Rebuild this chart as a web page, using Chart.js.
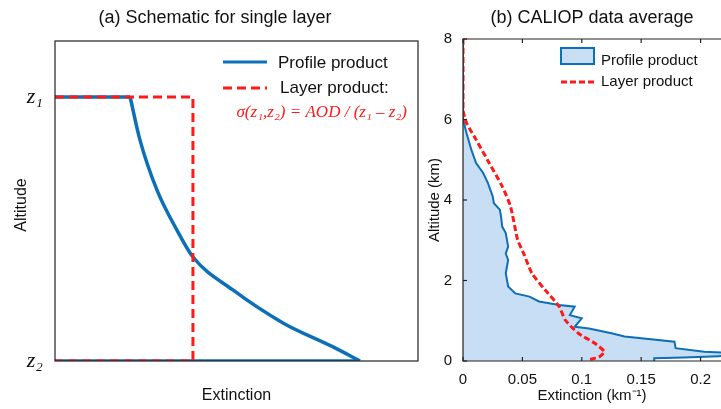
<!DOCTYPE html>
<html>
<head>
<meta charset="utf-8">
<script src="https://cdn.jsdelivr.net/npm/chart.js@4.4.0/dist/chart.umd.min.js"></script>
<style>
body{margin:0;background:#fff;width:721px;height:409px;overflow:hidden;position:relative}
#a{position:absolute;left:0;top:0}
#b{position:absolute;left:425px;top:0}
</style>
</head>
<body>
<canvas id="a" width="425" height="409"></canvas>
<canvas id="b" width="296" height="409"></canvas>
<script>
// (a) schematic, arbitrary units
var z1 = 8.25, z2 = 0;
var schemCurveX = [2.07, 2.34, 2.81, 3.36, 3.80, 4.90, 6.28, 7.66, 8.40];
var schemCurveY = [z1, 6.91, 5.34, 4.09, 3.25, 2.22, 1.19, 0.44, z2];
var schemTopX = [0, 2.07];
var schemBottomX = [0, 8.40];
var schemLayerX = [0, 3.8, 3.8, 0];
var schemLayerY = [z1, z1, z2, z2];

// (b) CALIOP average, extinction km^-1 vs altitude km
var profExt = [0, 0, 0.003, 0.007, 0.011, 0.017, 0.021, 0.025, 0.026, 0.031, 0.032, 0.033, 0.036, 0.038, 0.036, 0.038, 0.036, 0.038, 0.044, 0.056, 0.064, 0.081, 0.094, 0.090, 0.100, 0.094, 0.106, 0.125, 0.136, 0.178, 0.179, 0.203, 0.230, 0.230, 0.215, 0.186, 0.161, 0.161];
var profAlt = [8, 6.0, 5.66, 5.25, 4.92, 4.67, 4.42, 4.09, 3.92, 3.76, 3.59, 3.34, 3.18, 2.84, 2.67, 2.51, 2.18, 1.85, 1.68, 1.60, 1.48, 1.39, 1.35, 1.14, 1.06, 0.85, 0.81, 0.69, 0.61, 0.48, 0.32, 0.23, 0.20, 0.14, 0.12, 0.09, 0.07, 0];
var layerExt = [0, 0, 0.003, 0.011, 0.022, 0.033, 0.040, 0.046, 0.051, 0.058, 0.069, 0.081, 0.086, 0.097, 0.111, 0.119, 0.115, 0.107];
var layerAlt = [8, 6.24, 5.91, 5.50, 4.92, 4.34, 3.84, 3.01, 2.68, 2.18, 1.77, 1.35, 1.02, 0.69, 0.44, 0.23, 0.11, 0.04];
var altTicks = [0, 2, 4, 6, 8];

var BLUE = '#0c6fb8', RED = '#ff1a1a';
var SANS = '"Liberation Sans", Arial, sans-serif';
var SERIF = '"Liberation Serif", "Times New Roman", serif';

function pts(xs, ys){ return xs.map(function(x, i){ return {x: x, y: ys[i]}; }); }

function text(ctx, s, x, y, font, color, align){
	ctx.font = font; ctx.fillStyle = color; ctx.textAlign = align || 'left'; ctx.textBaseline = 'middle';
	ctx.fillText(s, x, y);
}

var schematicDeco = {
	id: 'deco',
	afterDraw: function(c){
		var ctx = c.ctx, a = c.chartArea;
		ctx.save();
		ctx.strokeStyle = '#222'; ctx.lineWidth = 1.2;
		ctx.strokeRect(a.left, a.top, a.right - a.left, a.bottom - a.top);
		text(ctx, '(a) Schematic for single layer', 215, 18, '18px ' + SANS, '#111', 'center');
		// legend
		ctx.lineWidth = 3;
		ctx.strokeStyle = BLUE; ctx.beginPath(); ctx.moveTo(223, 62); ctx.lineTo(267, 62); ctx.stroke();
		ctx.strokeStyle = RED; ctx.setLineDash([9, 5]); ctx.beginPath(); ctx.moveTo(223, 88); ctx.lineTo(267, 88); ctx.stroke();
		ctx.setLineDash([]);
		text(ctx, 'Profile product', 278, 63, '17px ' + SANS, '#111');
		text(ctx, 'Layer product:', 280, 88, '17px ' + SANS, '#111');
		text(ctx, 'σ(z₁,z₂) = AOD / (z₁ – z₂)', 407, 113, 'italic 17px ' + SERIF, RED, 'right');
		ctx.translate(22, (a.top + a.bottom) / 2 + 4); ctx.rotate(-Math.PI / 2);
		text(ctx, 'Altitude', 0, 0, '16px ' + SANS, '#111', 'center');
		ctx.restore();
	}
};

var blueLine = {borderColor: BLUE, borderWidth: 3.5, pointRadius: 0, order: 1};
new Chart(document.getElementById('a'), {
	type: 'line',
	data: {
		datasets: [
			{data: pts(schemLayerX, schemLayerY), borderColor: RED, borderWidth: 3, borderDash: [9, 5], pointRadius: 0, tension: 0, order: 0},
			Object.assign({data: pts(schemCurveX, schemCurveY), cubicInterpolationMode: 'monotone'}, blueLine),
			Object.assign({data: pts(schemTopX, [z1, z1])}, blueLine),
			Object.assign({data: pts(schemBottomX, [z2, z2]), borderWidth: 2.5}, blueLine)
		]
	},
	options: {
		responsive: false, animation: false,
		layout: {padding: {top: 41, right: 7}},
		plugins: {legend: {display: false}, tooltip: {enabled: false}},
		scales: {
			x: {type: 'linear', min: 0, max: 10,
				grid: {display: false}, border: {display: false},
				ticks: {display: false},
				title: {display: true, text: 'Extinction', font: {size: 16, family: SANS}, color: '#111', padding: {top: 22}},
				afterFit: function(s){ s.height = 48; }},
			y: {type: 'linear', min: 0, max: 10,
				grid: {display: false}, border: {display: false},
				afterBuildTicks: function(s){ s.ticks = [{value: z2}, {value: z1}]; },
				ticks: {callback: function(v){ return v === z1 ? 'z₁' : 'z₂'; }, font: {size: 22, family: SERIF, style: 'italic'}, color: '#111', padding: 4},
				afterFit: function(s){ s.width = 55; }}
		}
	},
	plugins: [schematicDeco]
});

var caliopDeco = {
	id: 'deco2',
	afterDraw: function(c){
		var ctx = c.ctx, a = c.chartArea;
		ctx.save();
		ctx.strokeStyle = '#222'; ctx.lineWidth = 1.2;
		ctx.beginPath(); ctx.moveTo(a.right + 5, a.top); ctx.lineTo(a.left, a.top); ctx.lineTo(a.left, a.bottom); ctx.lineTo(a.right + 5, a.bottom); ctx.stroke();
		// inward tick marks
		var xs = c.scales.x, ys = c.scales.y;
		[0, 0.05, 0.1, 0.15, 0.2].forEach(function(v){
			var p = xs.getPixelForValue(v);
			ctx.beginPath(); ctx.moveTo(p, a.bottom); ctx.lineTo(p, a.bottom - 4); ctx.moveTo(p, a.top); ctx.lineTo(p, a.top + 4); ctx.stroke();
		});
		altTicks.forEach(function(v){
			var p = ys.getPixelForValue(v);
			ctx.beginPath(); ctx.moveTo(a.left, p); ctx.lineTo(a.left + 4, p); ctx.stroke();
		});
		text(ctx, '(b) CALIOP data average', 167, 18, '18px ' + SANS, '#111', 'center');
		// legend
		ctx.fillStyle = '#c8def5'; ctx.fillRect(136, 48, 33, 16);
		ctx.strokeStyle = BLUE; ctx.lineWidth = 2; ctx.strokeRect(136, 48, 33, 16);
		ctx.strokeStyle = RED; ctx.lineWidth = 3; ctx.setLineDash([6, 3]);
		ctx.beginPath(); ctx.moveTo(136, 82); ctx.lineTo(172, 82); ctx.stroke();
		ctx.setLineDash([]);
		text(ctx, 'Profile product', 176, 61, '15px ' + SANS, '#111');
		text(ctx, 'Layer product', 176, 82, '15px ' + SANS, '#111');
		ctx.translate(10, (a.top + a.bottom) / 2); ctx.rotate(-Math.PI / 2);
		text(ctx, 'Altitude (km)', 0, 0, '15px ' + SANS, '#111', 'center');
		ctx.restore();
	}
};

new Chart(document.getElementById('b'), {
	type: 'line',
	data: {
		datasets: [
			{data: pts(profExt, profAlt), borderColor: BLUE, backgroundColor: '#c8def5', borderWidth: 2, fill: 'origin', pointRadius: 0, tension: 0, order: 1},
			{data: pts(layerExt, layerAlt), borderColor: RED, borderWidth: 3, borderDash: [6, 3], pointRadius: 0, tension: 0.2, order: 0}
		]
	},
	options: {
		responsive: false, animation: false, indexAxis: 'y',
		layout: {padding: {top: 39, right: 0}},
		plugins: {legend: {display: false}, tooltip: {enabled: false}},
		scales: {
			x: {type: 'linear', min: 0, max: 0.2172,
				grid: {display: false}, border: {display: false},
				afterBuildTicks: function(s){ s.ticks = [0, 0.05, 0.1, 0.15, 0.2].map(function(v){ return {value: v}; }); },
				ticks: {autoSkip: false, maxRotation: 0, callback: function(v){ return String(v); }, font: {size: 15, family: SANS}, color: '#111', padding: 2},
				title: {display: true, text: 'Extinction (km⁻¹)', font: {size: 15, family: SANS}, color: '#111', padding: {top: 0}},
				afterFit: function(s){ s.height = 48; }},
			y: {type: 'linear', min: 0, max: 8,
				grid: {display: false}, border: {display: false},
				afterBuildTicks: function(s){ s.ticks = altTicks.map(function(v){ return {value: v}; }); },
				ticks: {font: {size: 15, family: SANS}, color: '#111', padding: 3},
				afterFit: function(s){ s.width = 38; }}
		}
	},
	plugins: [caliopDeco]
});
</script>
</body>
</html>
